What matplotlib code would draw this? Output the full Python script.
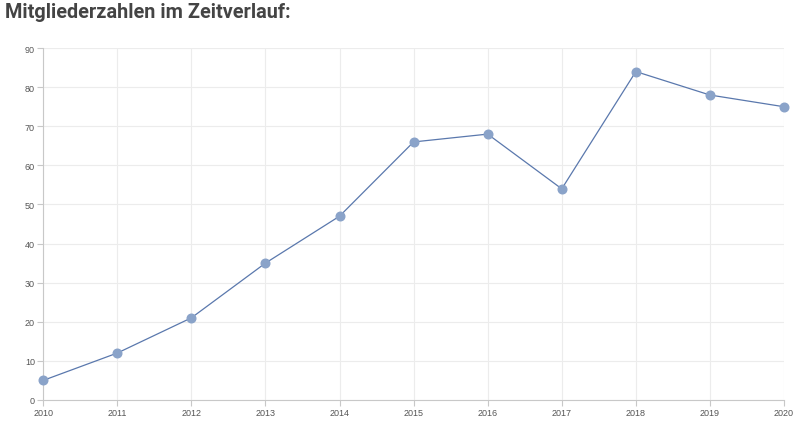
import matplotlib
matplotlib.use("Agg")
import matplotlib.pyplot as plt

YEARS = [2010, 2011, 2012, 2013, 2014, 2015, 2016, 2017, 2018, 2019, 2020]
MEMBERS = [5, 12, 21, 35, 47, 66, 68, 54, 84, 78, 75]
Y_TICKS = [0, 10, 20, 30, 40, 50, 60, 70, 80, 90]
TITLE = "Mitgliederzahlen im Zeitverlauf:"

plt.rcParams["font.family"] = ["Liberation Sans", "DejaVu Sans"]

fig = plt.figure(figsize=(8.0, 4.27), dpi=100)
ax = fig.add_axes([0.054, 0.061, 0.926, 0.824])

ax.plot(YEARS, MEMBERS, color="#5a78ad", linewidth=0.9, zorder=3)
ax.plot(YEARS, MEMBERS, linestyle="none", marker="o", markersize=6.2,
        markerfacecolor="#8aa3c9", markeredgecolor="#8aa3c9", zorder=4,
        clip_on=False)

ax.set_xlim(YEARS[0], YEARS[-1])
ax.set_ylim(0, 90)
ax.set_xticks(YEARS)
ax.set_yticks(Y_TICKS)
ax.tick_params(axis="both", labelsize=6.5, colors="#c8c8c8", labelcolor="#555555",
               length=4, width=0.8, pad=2)
ax.grid(color="#ececec", linewidth=0.8)
ax.set_axisbelow(True)
for side in ["top", "right"]:
    ax.spines[side].set_visible(False)
for side in ["left", "bottom"]:
    ax.spines[side].set_color("#c8c8c8")
    ax.spines[side].set_linewidth(0.8)

fig.text(0.006, 0.971, TITLE, fontsize=14.3, fontweight="bold", color="#444444",
         ha="left", va="center", family=["Roboto", "DejaVu Sans"])

fig.savefig("out.png", dpi=100)
